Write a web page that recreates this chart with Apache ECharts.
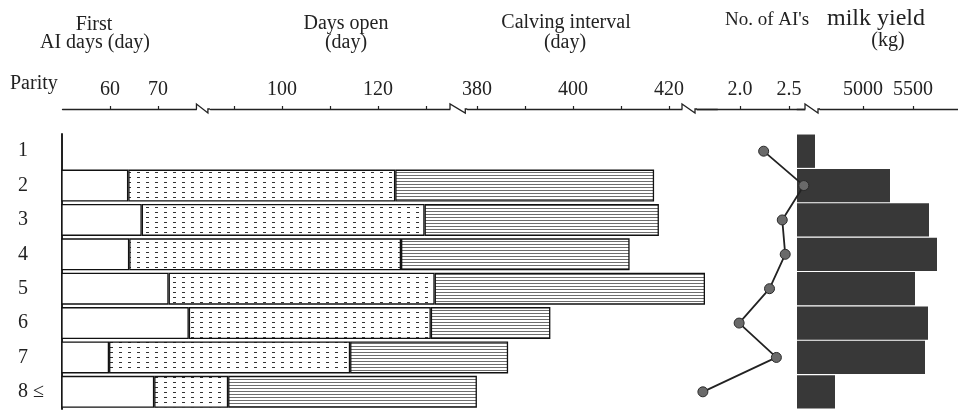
<!DOCTYPE html>
<html>
<head>
<meta charset="utf-8">
<script src="https://cdn.jsdelivr.net/npm/echarts@6/dist/echarts.min.js"></script>
<style>
  html, body { margin: 0; padding: 0; background: #fff; }
  #chart { width: 958px; height: 410px; }
</style>
</head>
<body>
<div id="chart"></div>
<script>
// parity rows, top to bottom
const parity = ['1', '2', '3', '4', '5', '6', '7', '8 ≤'];
// first AI days (day), days open (day), calving interval (day) - parity 1 has none
const firstAI = [null, 63.8, 66.6, 64.0, 72.2, 76.4, 59.8, 69.2];
const daysOpen = [null, 123.6, 129.7, 124.8, 131.8, 131.0, 114.2, 88.8];
const calving = [null, 416.9, 417.9, 411.8, 427.5, 395.3, 386.5, 380.0];
// number of AI's and milk yield (kg)
const aiCount = [2.24, 2.65, 2.43, 2.46, 2.30, 1.99, 2.37, 1.62];
const milk = [4520, 5270, 5660, 5740, 5520, 5650, 5620, 4720];
// tick labels
const dayTicks = [60, 70, 90, 100, 110, 120, 130, 380, 390, 400, 410, 420];
const dayLabels = [60, 70, 100, 120, 380, 400, 420];
const aiTicks = [2.0, 2.5];
const milkTicks = [5000, 5500];

const FONT = 'Liberation Serif';
const INK = '#222';

function pattern(w, h, draw) {
  const c = document.createElement('canvas');
  c.width = w;
  c.height = h;
  const ctx = c.getContext('2d');
  ctx.fillStyle = '#fff';
  ctx.fillRect(0, 0, w, h);
  draw(ctx);
  return { image: c, repeat: 'repeat' };
}
const dotted = pattern(9, 5, (ctx) => {
  ctx.fillStyle = '#333';
  ctx.fillRect(2, 2, 3, 1);
});
const lined = pattern(4, 3, (ctx) => {
  ctx.fillStyle = '#6e6e6e';
  ctx.fillRect(0, 1, 4, 1);
});

const openPart = daysOpen.map((v, i) => (v == null ? null : +(v - firstAI[i]).toFixed(1)));
const calvPart = calving.map((v, i) => (v == null ? null : +(v - daysOpen[i]).toFixed(1)));

const axisTop = {
  type: 'value',
  position: 'top',
  offset: 25,
  splitLine: { show: false },
  axisLine: { show: true, lineStyle: { color: INK, width: 1.3 } },
  axisTick: { show: true, length: 3, lineStyle: { color: INK, width: 1.2 } },
  axisLabel: { color: INK, fontFamily: FONT, fontSize: 20, margin: 9 },
};

const catAxis = (show) => ({
  type: 'category',
  inverse: true,
  data: parity,
  show,
  axisTick: { show: false },
  axisLine: { show, lineStyle: { color: INK, width: 2 } },
  axisLabel: { show, color: INK, fontFamily: FONT, fontSize: 20, align: 'left', margin: 44 },
});

const barBorder = { borderColor: '#111', borderWidth: 1.3 };

const chart = echarts.init(document.getElementById('chart'));
chart.setOption({
  animation: false,
  grid: [
    { left: 62, width: 655, top: 134, bottom: 1 },
    { left: 697, width: 108, top: 134, bottom: 1 },
    { left: 797, width: 161, top: 134, bottom: 1 },
  ],
  xAxis: [
    {
      ...axisTop,
      gridIndex: 0,
      min: 50,
      max: 430,
      breaks: [
        { start: 78, end: 85, gap: 2.8 },
        { start: 135, end: 378, gap: 3.6 },
      ],
      breakArea: { show: false },
      axisTick: { ...axisTop.axisTick, customValues: dayTicks },
      axisLabel: { ...axisTop.axisLabel, customValues: dayLabels },
    },
    {
      ...axisTop,
      gridIndex: 1,
      min: 1.56,
      max: 2.662,
      axisTick: { ...axisTop.axisTick, customValues: aiTicks },
      axisLabel: { ...axisTop.axisLabel, customValues: aiTicks, formatter: (v) => v.toFixed(1) },
    },
    {
      ...axisTop,
      gridIndex: 2,
      min: 4340,
      max: 5950,
      axisTick: { ...axisTop.axisTick, customValues: milkTicks },
      axisLabel: { ...axisTop.axisLabel, customValues: milkTicks, formatter: (v) => String(v) },
    },
  ],
  yAxis: [
    { ...catAxis(true), gridIndex: 0 },
    { ...catAxis(false), gridIndex: 1 },
    { ...catAxis(false), gridIndex: 2 },
  ],
  series: [
    {
      name: 'First AI days',
      type: 'bar',
      stack: 'days',
      barCategoryGap: '7%',
      itemStyle: { color: '#fff', ...barBorder },
      data: firstAI,
    },
    {
      name: 'Days open',
      type: 'bar',
      stack: 'days',
      itemStyle: { color: dotted, ...barBorder },
      data: openPart,
    },
    {
      name: 'Calving interval',
      type: 'bar',
      stack: 'days',
      itemStyle: { color: lined, ...barBorder },
      data: calvPart,
    },
    {
      name: 'Milk yield',
      type: 'bar',
      xAxisIndex: 2,
      yAxisIndex: 2,
      barCategoryGap: '3%',
      itemStyle: { color: '#383838' },
      data: milk,
      z: 2,
    },
    {
      name: "No. of AI's",
      type: 'line',
      xAxisIndex: 1,
      yAxisIndex: 1,
      symbol: 'circle',
      symbolSize: 10,
      lineStyle: { color: INK, width: 1.8 },
      itemStyle: { color: '#6a6a6a', borderColor: '#2a2a2a', borderWidth: 1 },
      data: aiCount,
      z: 5,
    },
  ],
});

// headings and the zigzag marks where the axis is broken
const axisY = 109;
const px = (axis, v) => chart.convertToPixel({ xAxisIndex: axis }, v);
const aiLeft = px(1, 1.56);
const aiRight = px(1, 2.662);
const cuts = [
  [px(0, 78), px(0, 85)],
  [px(0, 135), px(0, 378)],
  [aiLeft - 15, aiLeft],
  [aiRight, aiRight + 15],
];

const txt = (text, x, y, size, align) => ({
  type: 'text',
  x,
  y,
  silent: true,
  style: {
    text,
    fill: INK,
    font: `${size || 20}px "${FONT}"`,
    align: align || 'center',
    verticalAlign: 'middle',
  },
});

const graphic = [
  txt('First', 94, 25),
  txt('AI days (day)', 95, 43),
  txt('Days open', 346, 24),
  txt('(day)', 346, 43),
  txt('Calving interval', 566, 23),
  txt('(day)', 565, 43),
  txt("No. of AI's", 767, 20, 19),
  txt('milk yield', 876, 19, 24),
  txt('(kg)', 888, 41),
  txt('Parity', 10, 84, 20, 'left'),
];
cuts.forEach(([a, b]) => {
  graphic.push({
    type: 'rect',
    silent: true,
    z: 100,
    shape: { x: a + 0.5, y: axisY - 2, width: b - a - 1, height: 4 },
    style: { fill: '#fff' },
  });
  graphic.push({
    type: 'polyline',
    silent: true,
    z: 101,
    shape: { points: [[a, axisY], [a, axisY - 5], [b - 2, axisY + 4], [b - 2, axisY], [b, axisY]] },
    style: { stroke: INK, lineWidth: 1.3, fill: null },
  });
});
chart.setOption({ graphic });
</script>
</body>
</html>
